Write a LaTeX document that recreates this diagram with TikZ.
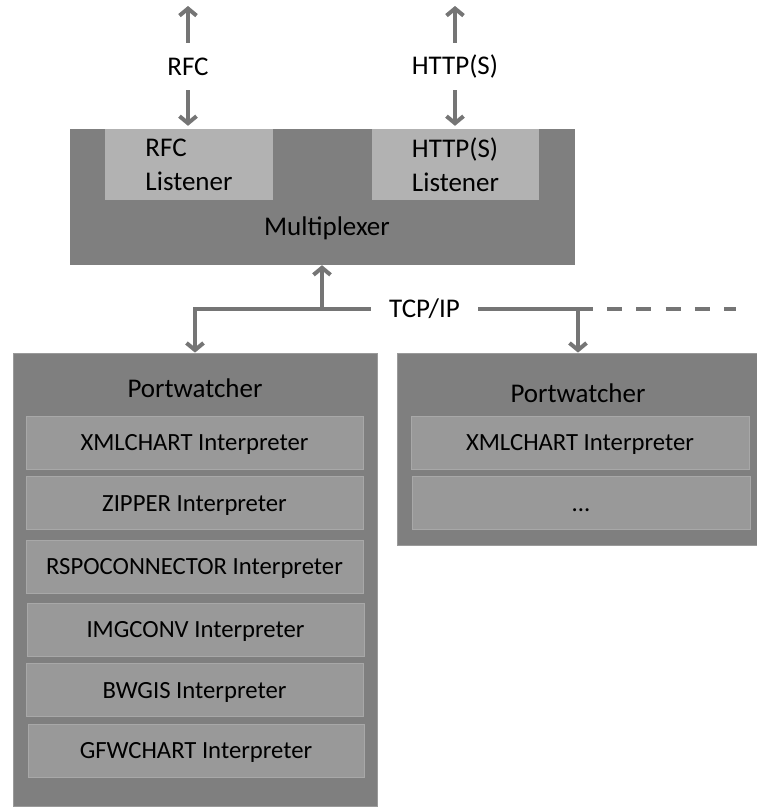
\documentclass[tikz,border=0pt]{standalone}
\usepackage{fontspec}
\setmainfont{Carlito}
\usetikzlibrary{arrows.meta}
\definecolor{boxdark}{HTML}{7F7F7F}
\definecolor{boxedge}{HTML}{9A9A9A}
\definecolor{listenc}{HTML}{B2B2B2}
\definecolor{interpc}{HTML}{999999}
\definecolor{interpedge}{HTML}{A8A8A8}
\definecolor{arrowc}{HTML}{757575}
\begin{document}
\begin{tikzpicture}[x=1pt,y=-1pt,
  lbl/.style={font=\fontsize{27}{33}\selectfont, text=black, inner sep=0pt},
  bigbox/.style={fill=boxdark, draw=none, inner sep=0pt},
  pwbox/.style={fill=boxdark, draw=boxedge, line width=0.8pt, inner sep=0pt},
  listener/.style={fill=listenc, draw=none, inner sep=0pt, align=left,
    minimum height=71pt, font=\fontsize{27}{34}\selectfont, text=black},
  interp/.style={fill=interpc, draw=interpedge, line width=0.8pt, inner sep=0pt,
    minimum height=53pt, text height=16pt, text depth=0pt,
    font=\fontsize{24.7}{30}\selectfont, text=black},
  conn/.style={draw=arrowc, line width=4pt},
  arr/.style={conn, -{Straight Barb[length=7pt,width=17pt]}}]
\useasboundingbox[fill=white] (0,0) rectangle (757,809);

% Multiplexer with listeners
\node[bigbox, minimum width=505pt, minimum height=136pt] (mux) at (322.5,197) {};
\node[lbl] (muxT) at (327,228) {Multiplexer};
\node[listener, minimum width=168pt] (rfcL) at (189,164.5) {RFC\\Listener};
\node[listener, minimum width=167pt] (httpL) at (455.5,164.5) {HTTP(S)\\Listener};

% protocol labels above
\node[lbl, minimum height=47pt] (rfcP) at (188,66.5) {RFC};
\node[lbl, minimum height=47pt] (httpP) at (455,66.5) {HTTP(S)};
\coordinate (rfcTop) at (188,6);
\coordinate (httpTop) at (455,6);
\draw[arr] (rfcP.north) -- (rfcTop);
\draw[arr, shorten >=3pt] (rfcP.south) -- (rfcP.south |- rfcL.north);
\draw[arr] (httpP.north) -- (httpTop);
\draw[arr, shorten >=3pt] (httpP.south) -- (httpP.south |- httpL.north);

% Portwatchers
\node[pwbox, minimum width=364pt, minimum height=453pt] (lpw) at (195,579.5) {};
\node[pwbox, minimum width=362pt, minimum height=192pt] (rpw) at (578,449) {};
\node[lbl] (lpwT) at (195,388) {Portwatcher};
\node[lbl] (rpwT) at (578,393) {Portwatcher};

\node[interp, minimum width=337pt] (i1) at (194.5,442.5) {XMLCHART Interpreter};
\node[interp, minimum width=337pt] (i2) at (194.5,503) {ZIPPER Interpreter};
\node[interp, minimum width=337pt] (i3) at (194.5,566.5) {RSPOCONNECTOR Interpreter};
\node[interp, minimum width=337pt] (i4) at (195.5,629.5) {IMGCONV Interpreter};
\node[interp, minimum width=337pt] (i5) at (194.5,690) {BWGIS Interpreter};
\node[interp, minimum width=336pt] (i6) at (196,750.5) {GFWCHART Interpreter};

\node[interp, minimum width=338pt] (r1) at (580,442.5) {XMLCHART Interpreter};
\node[interp, minimum width=338pt] (r2) at (581,503) {...};

% TCP/IP network
\node[lbl, minimum width=107pt, minimum height=20pt] (tcp) at (424.5,309) {TCP/IP};
\coordinate (jm) at (322,309);
\coordinate (jr) at (578,309);
\coordinate (dashEnd) at (736,309);
\draw[arr] (tcp.west) -| (lpw.north);
\draw[arr] (jm) -- (jm |- mux.south);
\draw[conn] (tcp.east) -- (jr);
\draw[arr] (jr) -- (jr |- rpw.north);
\draw[conn, dash pattern=on 15pt off 14.2pt] (jr) -- (dashEnd);
\end{tikzpicture}
\end{document}
